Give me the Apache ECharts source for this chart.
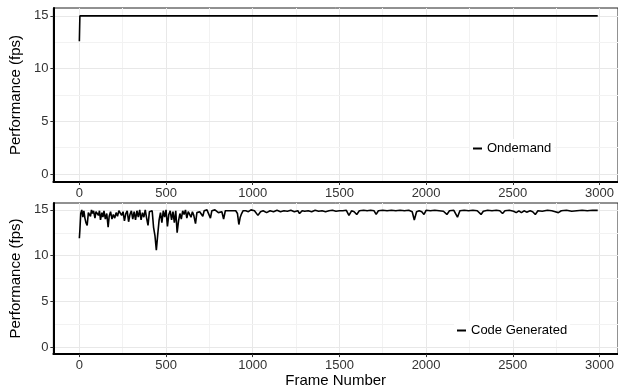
<!DOCTYPE html>
<html>
<head>
<meta charset="utf-8">
<script src="https://cdn.jsdelivr.net/npm/echarts@6/dist/echarts.min.js"></script>
<style>
  html, body { margin: 0; padding: 0; background: #fff; }
  #chart { width: 618px; height: 389px; }
</style>
</head>
<body>
<div id="chart"></div>
<script>
// tick labels
const xTicks = [0, 500, 1000, 1500, 2000, 2500, 3000]
const xMinorTicks = [250, 750, 1250, 1750, 2250, 2750]
const yTicks = [0, 5, 10, 15]
const yMinorTicks = [2.5, 7.5, 12.5]

// Ondemand (top panel)
const ondemandFrames = [0, 3, 400, 800, 1200, 1600, 2000, 2400, 2800, 2910, 2920, 2930, 2990]
const ondemandFps = [12.6, 15, 15, 15, 15, 15, 15, 15, 15, 15, 14.85, 15, 15]

// Code Generated (bottom panel)
const codeGenFrames = [
    0, 3, 8, 14, 20, 26, 32, 38, 45, 52, 58, 64, 70, 76, 82, 90, 96, 102, 110, 116,
    122, 130, 136, 142, 150, 158, 166, 172, 180, 188, 196, 204, 212, 220, 228, 236, 244, 252, 260, 268,
    276, 284, 292, 300, 308, 316, 324, 332, 340, 348, 356, 364, 372, 380, 388, 396, 404, 412, 420, 428,
    436, 444, 452, 460, 468, 476, 484, 492, 500, 508, 516, 524, 532, 540, 548, 556, 564, 572, 580, 588,
    596, 604, 612, 620, 628, 636, 644, 652, 660, 670, 678, 686, 694, 702, 712, 720, 728, 736, 746, 756,
    764, 772, 782, 792, 802, 812, 822, 832, 842, 852, 862, 872, 882, 892, 902, 912, 920, 928, 936, 944,
    952, 960, 975, 990, 1010, 1030, 1045, 1060, 1080, 1100, 1120, 1140, 1160, 1180, 1200, 1220, 1240, 1260, 1270, 1285,
    1300, 1320, 1340, 1360, 1380, 1400, 1420, 1440, 1460, 1480, 1500, 1520, 1540, 1555, 1570, 1585, 1600, 1615, 1640, 1660,
    1680, 1700, 1712, 1725, 1750, 1775, 1800, 1825, 1850, 1875, 1900, 1920, 1932, 1945, 1960, 1975, 1988, 2000, 2025, 2050,
    2075, 2100, 2120, 2135, 2160, 2181, 2195, 2220, 2245, 2270, 2295, 2317, 2330, 2355, 2380, 2405, 2425, 2441, 2455, 2480,
    2505, 2520, 2535, 2550, 2565, 2580, 2600, 2615, 2630, 2645, 2670, 2700, 2725, 2745, 2763, 2780, 2810, 2840, 2870, 2900,
    2930, 2960, 2990
]
const codeGenFps = [
    11.9, 12.8, 14.6, 15.0, 14.2, 14.9, 14.1, 13.6, 13.3, 14.7, 14.9, 14.3, 15.0, 14.6, 14.9, 14.1, 14.8, 15.0, 14.4, 14.9,
    13.9, 14.7, 14.2, 14.9, 14.0, 14.6, 13.1, 14.3, 14.8, 14.0, 14.5, 14.1, 14.7, 14.3, 14.9, 15.0, 14.4, 14.8, 13.8, 14.6,
    14.9, 13.7, 14.5, 14.9, 14.0, 14.8, 13.9, 14.9, 14.2, 15.0, 13.9, 14.7, 14.2, 15.0, 14.1, 13.3, 14.8, 15.0, 14.9, 13.1,
    12.2, 10.6, 12.3, 13.9, 14.7, 13.6, 14.9, 14.2, 15.0, 13.2, 14.5, 14.9, 13.9, 14.8, 13.6, 14.9, 12.5, 13.8, 14.6, 14.0,
    14.9, 14.5, 15.0, 14.1, 14.8, 14.9, 14.2, 14.8, 14.4, 13.5, 14.7, 14.9, 14.8, 15.0, 14.3, 14.9, 14.7, 15.0, 14.8, 14.1,
    14.9, 14.8, 15.0, 14.9, 14.7, 14.9, 14.8, 14.0, 14.9, 15.0, 14.9, 14.7, 14.9, 15.0, 14.9, 14.6, 13.4, 14.2, 14.6, 14.9,
    15.0, 14.9, 14.8, 15.0, 14.9, 14.4, 14.8, 14.9, 14.7, 14.9, 14.8, 14.95, 14.8, 14.9, 14.85, 14.95, 14.8, 14.9, 14.6, 14.9,
    14.85, 14.9, 14.8, 14.95, 14.85, 14.9, 14.8, 14.9, 14.95, 14.85, 14.9, 14.9, 14.95, 14.4, 14.9, 14.8, 14.5, 14.9, 14.95, 14.9,
    14.95, 14.9, 14.5, 14.9, 14.95, 14.9, 14.95, 14.9, 14.95, 14.9, 14.95, 14.8, 13.9, 14.8, 14.9, 14.8, 14.5, 14.95, 14.9, 14.95,
    14.9, 14.85, 14.5, 14.9, 14.95, 14.2, 14.9, 14.95, 14.9, 14.95, 14.9, 14.5, 14.85, 14.95, 14.9, 14.95, 14.9, 14.6, 14.9, 14.95,
    14.85, 14.7, 14.9, 14.7, 14.9, 14.75, 14.9, 14.8, 14.5, 14.9, 14.85, 14.95, 14.9, 14.8, 14.7, 14.9, 14.95, 14.85, 14.9, 14.95,
    14.9, 14.95, 14.95
]

const FONT = 'Liberation Sans'
const chart = echarts.init(document.getElementById('chart'))

const zip = (xs, ys) => xs.map((x, i) => [x, ys[i]])

const gridLines = (major, minor, key) => [
    ...major.map(v => ({ [key]: v, lineStyle: { color: '#e8e8e8', width: 1, type: 'solid' } })),
    ...minor.map(v => ({ [key]: v, lineStyle: { color: '#f2f2f2', width: 1, type: 'solid' } }))
]

const makeX = (gridIndex, withName) => ({
    type: 'value',
    gridIndex,
    min: -150,
    max: 3107,
    z: 4,
    name: withName ? 'Frame Number' : '',
    nameLocation: 'middle',
    nameGap: 13,
    nameTextStyle: { fontFamily: FONT, fontSize: 15, color: '#000' },
    axisLine: { show: true, onZero: false, lineStyle: { color: '#000', width: 2 } },
    axisTick: { show: true, length: 3, customValues: xTicks, lineStyle: { color: '#333' } },
    axisLabel: {
        customValues: xTicks, margin: 5, fontFamily: FONT, fontSize: 13, color: '#333',
        formatter: v => String(v)
    },
    splitLine: { show: false }
})

const makeY = (gridIndex) => ({
    type: 'value',
    gridIndex,
    min: -0.75,
    max: 15.75,
    z: 4,
    name: 'Performance (fps)',
    nameLocation: 'middle',
    nameGap: 17,
    nameTextStyle: { fontFamily: FONT, fontSize: 15, color: '#000' },
    axisLine: { show: true, onZero: false, lineStyle: { color: '#000', width: 2 } },
    axisTick: { show: true, length: 3, customValues: yTicks, lineStyle: { color: '#333' } },
    axisLabel: { customValues: yTicks, margin: 5, fontFamily: FONT, fontSize: 13, color: '#333' },
    splitLine: { show: false }
})

// faint ggplot-style grid, drawn under everything else
const gridSeries = (idx) => ({
    type: 'line',
    xAxisIndex: idx,
    yAxisIndex: idx,
    data: [],
    z: 0,
    silent: true,
    markLine: {
        z: 0,
        silent: true,
        symbol: 'none',
        label: { show: false },
        lineStyle: { type: 'solid' },
        animation: false,
        data: [
            ...gridLines(xTicks, xMinorTicks, 'xAxis'),
            ...gridLines(yTicks, yMinorTicks, 'yAxis')
        ]
    }
})

chart.setOption({
    animation: false,
    backgroundColor: '#fff',
    grid: [
        { left: 43, top: 8, right: 0, height: 174, show: true, borderColor: '#222', borderWidth: 1 },
        { left: 43, top: 203, right: 0, height: 156, show: true, borderColor: '#222', borderWidth: 1 }
    ],
    xAxis: [makeX(0, false), makeX(1, true)],
    yAxis: [makeY(0), makeY(1)],
    legend: [
        {
            data: ['Ondemand'],
            left: 470, top: 139, padding: [3, 3],
            backgroundColor: '#fff',
            z: 10,
            icon: 'rect', itemWidth: 9, itemHeight: 2,
            textStyle: { fontFamily: FONT, fontSize: 13, color: '#000' }
        },
        {
            data: ['Code Generated'],
            left: 454, top: 321, padding: [3, 3],
            backgroundColor: '#fff',
            z: 10,
            icon: 'rect', itemWidth: 9, itemHeight: 2,
            textStyle: { fontFamily: FONT, fontSize: 13, color: '#000' }
        }
    ],
    series: [
        gridSeries(0),
        gridSeries(1),
        {
            name: 'Ondemand',
            type: 'line',
            xAxisIndex: 0,
            yAxisIndex: 0,
            data: zip(ondemandFrames, ondemandFps),
            showSymbol: false,
            symbol: 'none',
            itemStyle: { color: '#000' },
            lineStyle: { color: '#000', width: 1.6 },
            z: 3
        },
        {
            name: 'Code Generated',
            type: 'line',
            xAxisIndex: 1,
            yAxisIndex: 1,
            data: zip(codeGenFrames, codeGenFps),
            showSymbol: false,
            symbol: 'none',
            itemStyle: { color: '#000' },
            lineStyle: { color: '#000', width: 1.6 },
            z: 3
        }
    ]
})
</script>
</body>
</html>
